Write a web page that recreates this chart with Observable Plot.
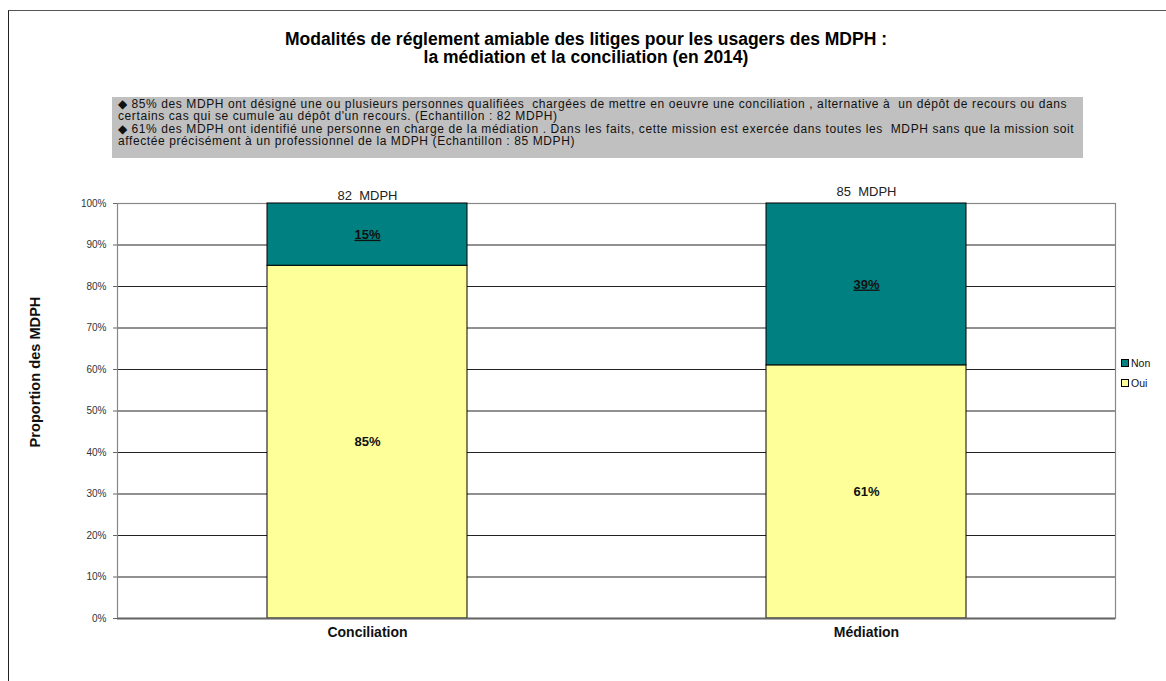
<!DOCTYPE html>
<html>
<head>
<meta charset="utf-8">
<script src="https://cdn.jsdelivr.net/npm/d3@7"></script>
<script src="https://cdn.jsdelivr.net/npm/@observablehq/plot@0.6"></script>
<style>
  html, body { margin: 0; padding: 0; background: #fff; }
  body { width: 1166px; height: 681px; position: relative; overflow: hidden; font-family: "Liberation Sans", Arial, sans-serif; }
  #border { position: absolute; left: 8px; top: 10px; width: 1300px; height: 800px; border-left: 1.5px solid #222; border-top: 1.5px solid #555; }
  #title { position: absolute; left: 0; width: 1172px; top: 30px; text-align: center; font-weight: bold; font-size: 17.5px; line-height: 18px; color: #000; }
  #note { position: absolute; left: 112px; top: 97px; width: 971px; height: 61px; background: #c0c0c0; box-sizing: border-box; padding: 1px 0 0 6px; font-size: 12px; letter-spacing: 0.6px; line-height: 12.3px; color: #111; white-space: pre; }
  #chart { position: absolute; left: 0; top: 0; }
  #ytitle { position: absolute; left: 35px; top: 372px; transform: translate(-50%, -50%) rotate(-90deg); font-weight: bold; font-size: 14.6px; white-space: nowrap; color: #111; }
  #legend { position: absolute; left: 1121px; top: 353px; font-size: 10.5px; color: #111; }
  #legend div { height: 20px; display: flex; align-items: center; gap: 2px; }
  #legend span.sw { display: inline-block; width: 6px; height: 6px; border: 1px solid #000; }
</style>
</head>
<body>
<div id="border"></div>
<div id="chart"></div>
<div id="title">Modalités de réglement amiable des litiges pour les usagers des MDPH :<br>la médiation et la conciliation (en 2014)</div>
<div id="note"></div>
<div id="ytitle">Proportion des MDPH</div>
<div id="legend"></div>
<script>
// ---- data ----
const categories = ["Conciliation", "Médiation"];
const series = ["Oui", "Non"];
const ouiValues = [85, 61];
const nonValues = [15, 39];
const sampleLabels = ["82  MDPH", "85  MDPH"];
const yTicks = [0, 10, 20, 30, 40, 50, 60, 70, 80, 90, 100];
const noteLines = [
  "◆ 85% des MDPH ont désigné une ou plusieurs personnes qualifiées  chargées de mettre en oeuvre une conciliation , alternative à  un dépôt de recours ou dans",
  "certains cas qui se cumule au dépôt d'un recours. (Echantillon : 82 MDPH)",
  "◆ 61% des MDPH ont identifié une personne en charge de la médiation . Dans les faits, cette mission est exercée dans toutes les  MDPH sans que la mission soit",
  "affectée précisément à un professionnel de la MDPH (Echantillon : 85 MDPH)"
];
const colors = { Oui: "#ffff99", Non: "#008080" };

// ---- table ----
const rows = [];
categories.forEach((c, i) => {
  rows.push({ cat: c, serie: "Oui", value: ouiValues[i] / 100 });
  rows.push({ cat: c, serie: "Non", value: nonValues[i] / 100 });
});
const tops = categories.map((c, i) => ({ cat: c, label: sampleLabels[i], idx: i }));

document.getElementById("note").textContent = noteLines.join("\n");

const chart = Plot.plot({
  width: 1166,
  height: 681,
  marginLeft: 117,
  marginRight: 51,
  marginTop: 203,
  marginBottom: 63,
  style: { fontFamily: "Liberation Sans, Arial, sans-serif", background: "transparent", overflow: "visible" },
  x: { domain: categories, paddingInner: 0.6, paddingOuter: 0.3, label: null },
  y: { domain: [0, 1], label: null },
  color: { domain: series, range: series.map(s => colors[s]) },
  marks: [
    Plot.ruleY(yTicks.map(t => t / 100), { stroke: "#222", strokeWidth: 1 }),
    Plot.frame({ stroke: "#888", strokeWidth: 1.2 }),
    Plot.barY(rows, Plot.stackY({ x: "cat", y: "value", fill: "serie", z: "serie", order: series, stroke: "#000", strokeWidth: 1 })),
    Plot.ruleY([0], { stroke: "#666", strokeWidth: 2 }),
    Plot.axisY({ ticks: yTicks.map(t => t / 100), tickFormat: d3.format(".0%"), tickSize: 4, tickPadding: 7, fontSize: 10, color: "#333", stroke: "#666" }),
    Plot.axisX({ tickSize: 0, tickPadding: 9, fontSize: 14, fontWeight: "bold", color: "#111" }),
    Plot.text(rows, Plot.stackY({ x: "cat", y: "value", z: "serie", order: series, text: d => Math.round(d.value * 100) + "%", fontSize: 13, fontWeight: "bold", fill: "#111" })),
    Plot.text(tops.filter(d => d.idx === 0), { x: "cat", y: () => 1, text: "label", dy: -8, fontSize: 13, fill: "#222" }),
    Plot.text(tops.filter(d => d.idx === 1), { x: "cat", y: () => 1, text: "label", dy: -12, fontSize: 13, fill: "#222" })
  ]
});
document.getElementById("chart").appendChild(chart);

// underline the "Non" value labels (first text mark, elements in data order)
const textGroups = chart.querySelectorAll('g[aria-label="text"]');
if (textGroups.length >= 1) {
  textGroups[0].querySelectorAll("text").forEach((t, i) => {
    if (rows[i] && rows[i].serie === "Non") t.setAttribute("text-decoration", "underline");
  });
}
// preserve double spaces in the sample labels
chart.querySelectorAll("text").forEach(t => t.style.whiteSpace = "pre");

// legend (reverse order, as in the reference)
const legend = d3.select("#legend");
series.slice().reverse().forEach(s => {
  const item = legend.append("div");
  item.append("span").attr("class", "sw").style("background", colors[s]);
  item.append("span").text(s);
});
</script>
</body>
</html>
